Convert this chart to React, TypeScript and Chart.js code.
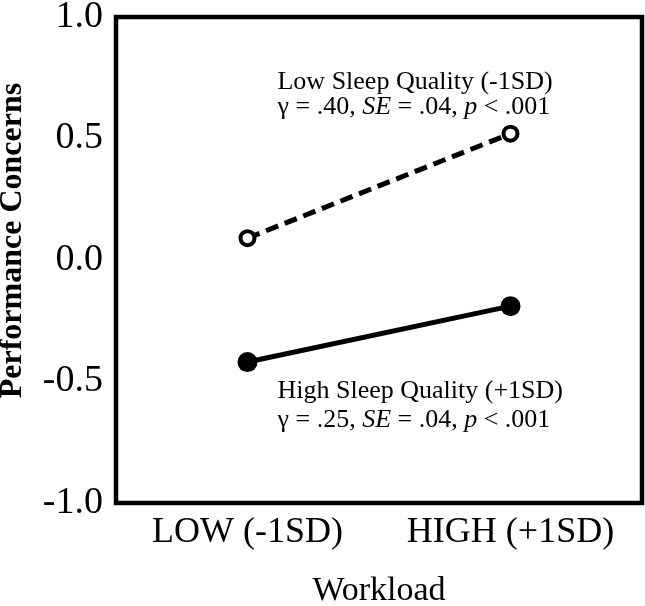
import React, { useEffect, useRef } from 'react';
import Chart from 'chart.js/auto';

// workload levels on the x axis
const workloadLevels = ['LOW (-1SD)', 'HIGH (+1SD)'];
// simple slopes
const lowSleepQuality = [0.09, 0.52];
const highSleepQuality = [-0.42, -0.19];
const yTicks = [-1.0, -0.5, 0.0, 0.5, 1.0];

const lowLabel = 'Low Sleep Quality (-1SD)';
const highLabel = 'High Sleep Quality (+1SD)';
// [text, italic]
const lowStats: [string, boolean][] = [['γ = .40, ', false], ['SE', true], [' = .04, ', false], ['p', true], [' < .001', false]];
const highStats: [string, boolean][] = [['γ = .25, ', false], ['SE', true], [' = .04, ', false], ['p', true], [' < .001', false]];

const SERIF = '"Liberation Serif", "Times New Roman", serif';

const drawRich = (ctx: CanvasRenderingContext2D, parts: [string, boolean][], x: number, y: number, size: number) => {
  let cx = x;
  parts.forEach(([t, it]) => {
    ctx.font = `${it ? 'italic ' : ''}${size}px ${SERIF}`;
    ctx.fillText(t, cx, y);
    cx += ctx.measureText(t).width;
  });
};

const extrasPlugin = {
  id: 'extras',
  afterDraw(chart: any) {
    const { ctx, chartArea } = chart;
    const { left, top, right, bottom } = chartArea;
    ctx.save();
    // frame
    ctx.strokeStyle = '#000';
    ctx.lineWidth = 4.5;
    ctx.strokeRect(left, top, right - left, bottom - top);

    // y title
    ctx.fillStyle = '#000';
    ctx.font = `bold 32px ${SERIF}`;
    ctx.textAlign = 'center';
    ctx.textBaseline = 'middle';
    ctx.translate(13, top + (bottom - top) * 0.46);
    ctx.rotate(-Math.PI / 2);
    ctx.fillText('Performance Concerns', 0, 0);
    ctx.restore();

    // annotations
    ctx.save();
    ctx.fillStyle = '#000';
    ctx.textAlign = 'left';
    ctx.textBaseline = 'middle';
    const w = right - left;
    const h = bottom - top;
    const tx = left + w * 0.307;
    ctx.font = `26px ${SERIF}`;
    ctx.fillText(lowLabel, tx, top + h * 0.135);
    drawRich(ctx, lowStats, tx, top + h * 0.186, 26);
    ctx.font = `26px ${SERIF}`;
    ctx.fillText(highLabel, tx, top + h * 0.77);
    drawRich(ctx, highStats, tx, top + h * 0.83, 26);
    ctx.restore();
  },
};

const App = () => {
  const chartRef = useRef<HTMLCanvasElement>(null);
  const chartInstanceRef = useRef<Chart>();

  useEffect(() => {
    document.body.style.margin = '0';
    if (chartRef.current) {
      const ctx = chartRef.current.getContext('2d');
      if (ctx) {
        if (chartInstanceRef.current) {
          chartInstanceRef.current.destroy();
        }
        chartInstanceRef.current = new Chart(ctx, {
          type: 'line',
          data: {
            labels: workloadLevels,
            datasets: [
              {
                label: lowLabel,
                data: lowSleepQuality,
                borderColor: '#000',
                borderWidth: 5,
                borderDash: [13, 7],
                pointRadius: 7,
                pointBorderWidth: 4,
                pointBackgroundColor: '#fff',
                pointBorderColor: '#000',
              },
              {
                label: highLabel,
                data: highSleepQuality,
                borderColor: '#000',
                borderWidth: 5,
                pointRadius: 10,
                pointBorderWidth: 0,
                pointBackgroundColor: '#000',
                pointBorderColor: '#000',
              },
            ],
          },
          options: {
            animation: false,
            responsive: true,
            maintainAspectRatio: false,
            layout: { autoPadding: false, padding: { top: 17, right: 3, left: 0, bottom: 0 } },
            plugins: {
              legend: { display: false },
              tooltip: { enabled: false },
            },
            scales: {
              x: {
                offset: true,
                grid: { display: false, drawTicks: false },
                border: { display: false },
                ticks: {
                  color: '#000',
                  padding: 8,
                  font: { family: SERIF, size: 36 },
                },
                title: {
                  display: true,
                  text: 'Workload',
                  color: '#000',
                  font: { family: SERIF, size: 34, lineHeight: 0.9 },
                  padding: { top: 0, bottom: 0 },
                },
                afterFit: (scale: any) => {
                  scale.height = 103;
                  scale.paddingLeft = 0;
                  scale.paddingRight = 0;
                },
              },
              y: {
                min: -1,
                max: 1,
                afterBuildTicks: (scale: any) => {
                  scale.ticks = yTicks.map((v) => ({ value: v }));
                },
                grid: { display: false, drawTicks: false },
                border: { display: false },
                ticks: {
                  color: '#000',
                  padding: 13,
                  font: { family: SERIF, size: 38 },
                  callback: (v: any) => Number(v).toFixed(1),
                },
                afterFit: (scale: any) => {
                  scale.width = 116;
                  scale.paddingTop = 0;
                  scale.paddingBottom = 0;
                },
              },
            },
          },
          plugins: [extrasPlugin],
        });
      }
    }
    return () => {
      if (chartInstanceRef.current) {
        chartInstanceRef.current.destroy();
      }
    };
  }, []);

  return (
    <div style={{ width: 645, height: 606, position: 'relative', background: '#fff' }}>
      <canvas ref={chartRef} />
    </div>
  );
};

export default App;
